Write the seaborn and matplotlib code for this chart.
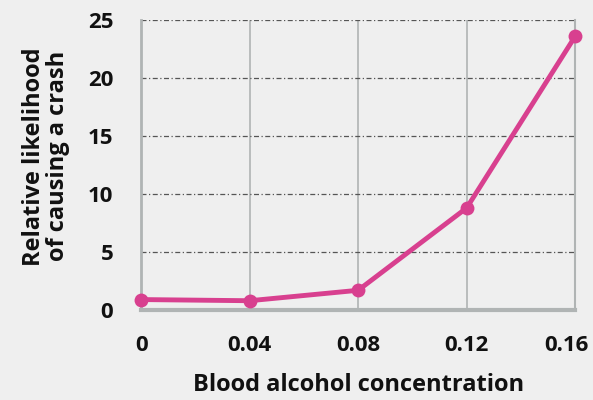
import pandas as pd
import seaborn as sns
import matplotlib.pyplot as plt
import matplotlib.transforms as mtransforms

# values
bac = [0, 0.04, 0.08, 0.12, 0.16]
likelihood = [0.9, 0.8, 1.7, 8.8, 23.6]
x_ticks = [0, 0.04, 0.08, 0.12, 0.16]
x_labels = ['0', '0.04', '0.08', '0.12', '0.16']
y_ticks = [0, 5, 10, 15, 20, 25]

data = pd.DataFrame({'bac': bac, 'likelihood': likelihood})

sns.set_style('white')
plt.rcParams['font.family'] = ['Open Sans', 'DejaVu Sans']

fig = plt.figure(figsize=(5.93, 4.0), dpi=100, facecolor='#efefef')
ax = fig.add_axes([0.238, 0.225, 0.732, 0.725])
ax.set_facecolor('#efefef')

pink = '#d8408f'
sns.lineplot(data=data, x='bac', y='likelihood', ax=ax, color=pink,
             linewidth=3.5, marker='o', markersize=10, markeredgewidth=0,
             clip_on=False, zorder=5)

ax.set_xlim(0, 0.16)
ax.set_ylim(0, 25)
ax.set_xticks(x_ticks)
ax.set_xticklabels(x_labels)
ax.set_yticks(y_ticks)

# grid: solid vertical, dashed horizontal
for xv in x_ticks[1:-1]:
    ax.axvline(xv, color='#b0b4b4', linewidth=1.2, zorder=1)
for yv in y_ticks[1:]:
    ax.axhline(yv, color='#555555', linewidth=0.9, linestyle=(0, (4, 2, 1, 2)), zorder=1)

for side in ['left', 'bottom', 'right']:
    ax.spines[side].set_visible(True)
    ax.spines[side].set_color('#b0b4b4')
ax.spines['left'].set_linewidth(2)
ax.spines['bottom'].set_linewidth(3)
ax.spines['right'].set_linewidth(1.5)
ax.spines['top'].set_visible(False)

ax.tick_params(axis='x', length=0, pad=18, labelsize=16)
ax.tick_params(axis='y', length=0, pad=20, labelsize=16)
for lbl in ax.get_xticklabels() + ax.get_yticklabels():
    lbl.set_fontweight('bold')
    lbl.set_color('#111111')

# last x label sits a little left so it stays inside the figure
last = ax.get_xticklabels()[-1]
last.set_transform(last.get_transform() +
                   mtransforms.ScaledTranslation(-9 / 100, 0, fig.dpi_scale_trans))

ax.set_xlabel('Blood alcohol concentration', fontsize=17, fontweight='bold',
              color='#111111', labelpad=12)
ax.set_ylabel('Relative likelihood\nof causing a crash', fontsize=17,
              fontweight='bold', color='#111111', linespacing=1.0)
ax.yaxis.set_label_coords(-0.165, 0.53)

fig.savefig('out.png', dpi=100, facecolor=fig.get_facecolor())
